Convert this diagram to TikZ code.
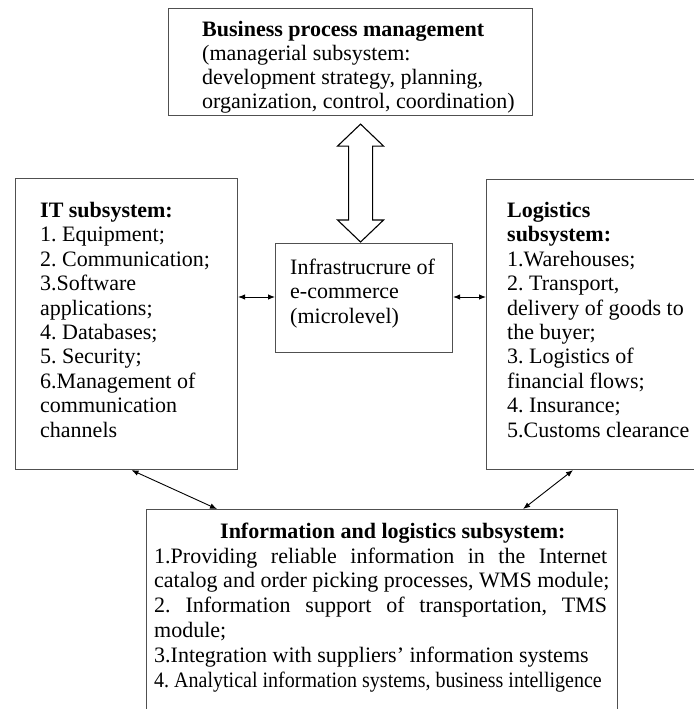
\documentclass[tikz,border=0pt]{standalone}
\usepackage{fontspec}
\setmainfont{Liberation Serif}
\usetikzlibrary{arrows.meta,calc}
\frenchspacing

\newcommand{\boxfont}{\fontsize{22}{24.4}\selectfont}
\newcommand{\ilsfont}{\fontsize{22}{24.8}\selectfont}

\tikzset{
  box/.style={draw={rgb,255:red,80;green,80;blue,80}, line width=1.1pt, rectangle, inner sep=0pt, anchor=north west},
  txt/.style={anchor=base west, align=left, inner sep=0pt, font=\boxfont},
  link/.style={{Latex[length=7pt,width=5.5pt]}-{Latex[length=7pt,width=5.5pt]}, line width=0.9pt},
  hollow/.style={draw=black, line width=1.1pt, fill=white, line join=miter}
}

\begin{document}
\begin{tikzpicture}[x=1pt,y=1pt,yscale=-1]
\useasboundingbox (0,0) rectangle (693,709);

%Box: business process management
\node[box, minimum width=364pt, minimum height=107pt] (bpm) at (168,8) {};
% base = last line
\node[txt, font=\fontsize{22}{24}\selectfont] (bpmtext) at (202,108) {\textbf{Business process management}\\
(managerial subsystem:\\
development strategy, planning,\\
organization, control, coordination)};

%Box: IT subsystem
\node[box, minimum width=222pt, minimum height=291pt] (it) at (15,178) {};
\node[txt] (ittext) at (40,437) {\textbf{IT subsystem:}\\
1. Equipment;\\
2. Communication;\\
3.Software\\
applications;\\
4. Databases;\\
5. Security;\\
6.Management of\\
communication\\
channels};

%Box: infrastructure
\node[box, minimum width=177pt, minimum height=109pt] (infra) at (275,243) {};
\node[txt] (infratext) at (290,323) {Infrastrucrure of\\
e-commerce\\
(microlevel)};

%Box: logistics subsystem
\node[box, minimum width=220pt, minimum height=290pt] (logi) at (486,179) {};
\node[txt] (logitext) at (507,437) {\textbf{Logistics}\\
\textbf{subsystem:}\\
1.Warehouses;\\
2. Transport,\\
delivery of goods to\\
the buyer;\\
3. Logistics of\\
financial flows;\\
4. Insurance;\\
5.Customs clearance};

%Box: information and logistics subsystem
\node[box, minimum width=471pt, minimum height=220pt] (ils) at (146,509) {};
\node[txt, font=\ilsfont] (ilstext) at (154,687) {\hspace*{66pt}\textbf{Information and logistics subsystem:}\\[0.2pt]
\makebox[453pt][s]{1.Providing reliable information in the Internet}\\
catalog and order picking processes, WMS module;\\
\makebox[453pt][s]{2. Information support of transportation, TMS}\\
module;\\
3.Integration with suppliers' information systems\\
\scalebox{0.91}[1]{4. Analytical information systems, business intelligence}};

%Hollow double arrow
\coordinate (up) at ($(bpm.south)+(10,8)$);
\coordinate (dn) at ($(infra.north)+(-3.5,-1)$);
\draw[hollow] (up) -- ++(23,22) -- ++(-11,0) -- ($(dn)+(12,-22)$) -- ++(11,0) -- (dn)
  -- ++(-23,-22) -- ++(11,0) -- ($(up)+(-12,22)$) -- ++(-11,0) -- cycle;

%Links
\draw[link] (infra.west |- 0,297) -- (it.east |- 0,297);
\draw[link] (infra.east |- 0,297) -- (logi.west |- 0,297);
\draw[link] ($(it.south)+(5,0)$) -- ($(ils.north west)+(71,0)$);
\draw[link] ($(logi.south west)+(87,0)$) -- ($(ils.north east)+(-95,0)$);
\end{tikzpicture}
\end{document}
